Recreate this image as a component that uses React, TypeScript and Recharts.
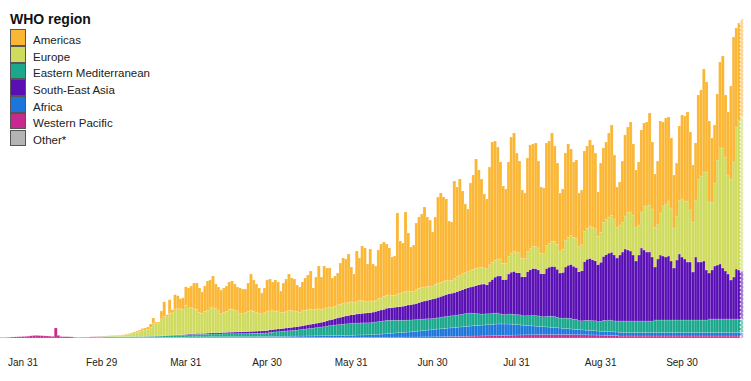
import React from 'react';
import { BarChart, Bar, XAxis, YAxis } from 'recharts';

// daily new cases by WHO region, Jan 23 - Oct 22 (one per day)
const START_UTC = Date.UTC(2020, 0, 23);
const MONTHS = ['Jan', 'Feb', 'Mar', 'Apr', 'May', 'Jun', 'Jul', 'Aug', 'Sep', 'Oct', 'Nov', 'Dec'];

const tickLabels = ['Jan 31', 'Feb 29', 'Mar 31', 'Apr 30', 'May 31', 'Jun 30', 'Jul 31', 'Aug 31', 'Sep 30'];

const other = [
  0, 0, 0, 0, 0, 0, 0, 0, 0, 0,
  0, 0, 0, 0, 0, 0, 0, 0, 0, 0,
  0, 0, 0, 0, 0, 0, 0, 0, 0, 0,
  0, 0, 0, 0.4, 0.5, 0.5, 0.6, 0.6, 0.5, 0.4,
  0.3,
];

const westernPacific = [
  0.5, 0.5, 0.6, 0.7, 1.0, 1.1, 1.2, 1.3, 1.5, 1.6,
  1.8, 2.2, 2.5, 2.6, 2.4, 2.3, 2.1, 2.0, 1.8, 1.6,
  10, 2.6, 1.4, 1.3, 1.3, 1.2, 1.1, 0.6, 0.5, 0.5,
  0.6, 0.6, 0.6, 0.7, 0.7, 0.7, 0.8, 0.8, 0.8, 0.8,
  0.8, 0.8, 0.8, 0.7, 0.7, 0.7, 0.7, 0.6, 0.6, 0.6,
  0.6, 0.6, 0.6, 0.6, 0.6, 0.6, 0.6, 0.6, 0.6, 0.6,
  0.6, 0.6, 0.6, 0.6, 0.6, 0.6, 0.6, 0.6, 0.6, 0.8,
  0.8, 0.8, 0.8, 0.8, 0.7, 0.7, 0.8, 0.8, 0.8, 0.8,
  0.7, 0.7, 0.7, 0.7, 0.7, 0.7, 0.7, 0.6, 0.6, 0.6,
  0.6, 0.6, 0.6, 0.6, 0.6, 0.6, 0.6, 0.6, 0.6, 0.6,
  0.6, 0.6, 0.6, 0.6, 0.6, 0.6, 0.6, 0.6, 0.6, 0.6,
  0.6, 0.6, 0.6, 0.6, 0.6, 0.6, 0.6, 0.6, 0.6, 0.6,
  0.6, 0.6, 0.6, 0.6, 0.6, 0.6, 0.6, 0.6, 0.6, 0.6,
  0.6, 0.7, 0.7, 0.7, 0.7, 0.7, 0.8, 0.8, 0.8, 0.8,
  0.8, 0.8, 0.8, 0.9, 0.9, 0.9, 0.9, 0.9, 0.9, 1.0,
  1.0, 1.0, 1.0, 1.0, 1.0, 1.1, 1.1, 1.1, 1.1, 1.2,
  1.2, 1.3, 1.3, 1.4, 1.4, 1.5, 1.5, 1.6, 1.6, 1.7,
  1.7, 1.8, 1.8, 1.9, 1.9, 2.0, 2.0, 2.1, 2.1, 2.2,
  2.2, 2.3, 2.4, 2.5, 2.6, 2.6, 2.7, 2.8, 2.9, 3.0,
  3.0, 3.1, 3.1, 3.2, 3.2, 3.3, 3.3, 3.4, 3.4, 3.5,
  3.5, 3.5, 3.5, 3.5, 3.5, 3.5, 3.5, 3.5, 3.5, 3.5,
  3.5, 3.4, 3.4, 3.3, 3.3, 3.2, 3.2, 3.1, 3.1, 3.0,
  3.0, 2.9, 2.9, 2.8, 2.8, 2.7, 2.6, 2.5, 2, 2,
  2, 2, 2, 2, 2, 2, 2, 2, 2, 2,
  2, 2, 2, 2, 2, 2, 2, 2, 2, 2,
  2, 2, 2, 2, 2, 2, 2, 2, 2, 2,
  2, 2, 2, 2, 2, 2, 2, 2, 2, 2,
  2, 2, 2, 2,
];

const africa = [
  0, 0, 0, 0, 0, 0, 0, 0, 0, 0,
  0, 0, 0, 0, 0, 0, 0, 0, 0, 0,
  0, 0, 0, 0, 0, 0, 0, 0, 0, 0,
  0, 0, 0, 0, 0, 0, 0, 0, 0, 0,
  0, 0, 0, 0, 0, 0, 0, 0, 0, 0,
  0, 0, 0, 0, 0, 0, 0, 0, 0, 0,
  0.2, 0.2, 0.2, 0.2, 0.2, 0.2, 0.2, 0.2, 0.2, 0.3,
  0.3, 0.3, 0.4, 0.4, 0.4, 0.4, 0.4, 0.5, 0.5, 0.5,
  0.5, 0.5, 0.6, 0.6, 0.6, 0.6, 0.6, 0.7, 0.7, 0.7,
  0.7, 0.7, 0.8, 0.8, 0.8, 0.8, 0.8, 0.9, 0.9, 1.0,
  1.0, 1.1, 1.1, 1.1, 1.2, 1.2, 1.2, 1.3, 1.3, 1.3,
  1.4, 1.4, 1.4, 1.5, 1.5, 1.5, 1.6, 1.6, 1.7, 1.7,
  1.8, 1.8, 1.8, 1.9, 1.9, 2.0, 2.0, 2.1, 2.1, 2.2,
  2.2, 2.3, 2.3, 2.4, 2.4, 2.5, 2.5, 2.6, 2.8, 3.0,
  3.1, 3.3, 3.5, 3.7, 3.9, 4.1, 4.3, 4.5, 4.7, 4.8,
  5.0, 5.2, 5.5, 5.8, 6.0, 6.3, 6.5, 6.8, 7.0, 7.2,
  7.5, 7.7, 7.9, 8.1, 8.3, 8.5, 8.7, 8.9, 9.1, 9.3,
  9.5, 9.7, 9.9, 10.1, 10.3, 10.5, 10.7, 10.8, 10.9, 11,
  11.1, 11.3, 11.5, 11.5, 11.5, 11.4, 11.3, 11.2, 11, 10.7,
  10.4, 10.1, 9.8, 9.5, 9.2, 9.0, 8.8, 8.5, 8.2, 8.0,
  7.8, 7.6, 7.4, 7.2, 7.0, 6.8, 6.5, 6.2, 6.0, 5.8,
  5.6, 5.4, 5.2, 5.0, 4.9, 4.8, 4.6, 4.5, 4.3, 4.2,
  4.0, 3.9, 3.8, 3.7, 3.6, 3.6, 3.5, 3.5, 3.5, 3.5,
  3.5, 3.5, 3.5, 3.5, 3.5, 3.5, 3.5, 3.5, 3.5, 3.5,
  3.5, 3.5, 3.5, 3.5, 3.5, 3.5, 3.5, 3.5, 3.5, 3.5,
  3.5, 3.5, 3.5, 3.5, 3.5, 3.5, 3.5, 3.5, 3.5, 3.5,
  3.5, 3.5, 3.5, 3.5, 3.5, 3.5, 3.5, 3.5, 3.5, 3.5,
  3.5, 3.5, 3.5, 3.5,
];

const easternMed = [
  0, 0, 0, 0, 0, 0, 0, 0, 0, 0,
  0, 0, 0, 0, 0, 0, 0, 0, 0, 0,
  0, 0, 0, 0, 0, 0, 0, 0, 0, 0,
  0, 0, 0, 0, 0, 0, 0, 0, 0.3, 0.4,
  0.5, 0.5, 0.6, 0.6, 0.6, 0.7, 0.8, 0.8, 0.9, 0.9,
  1.0, 1.0, 1.0, 1.1, 1.1, 1.2, 1.2, 1.3, 1.3, 1.4,
  1.5, 1.6, 1.7, 1.8, 1.9, 2.0, 2.0, 2.1, 2.2, 2.3,
  2.4, 2.4, 2.5, 2.5, 2.5, 2.6, 2.6, 2.7, 2.7, 2.8,
  2.8, 2.8, 2.9, 2.9, 3.0, 3.0, 3.0, 3.0, 3.1, 3.1,
  3.1, 3.2, 3.2, 3.3, 3.3, 3.4, 3.4, 3.5, 3.6, 4.0,
  4.2, 4.4, 4.6, 4.8, 5.0, 5.2, 5.4, 5.6, 5.8, 6.0,
  6.3, 6.6, 6.9, 7.2, 7.5, 7.8, 8.1, 8.4, 8.7, 9.0,
  9.5, 10, 10.2, 10.5, 10.8, 11, 11.2, 11.4, 11.6, 11.8,
  11.8, 12, 12, 12, 12, 12, 12, 12.2, 12.4, 12.6,
  12.8, 13, 13.5, 13.2, 13, 12.8, 12.6, 12.4, 12.2, 12,
  12, 11.8, 11.7, 11.6, 11.5, 11.5, 11.4, 11.3, 11.2, 11.1,
  11, 11.2, 11.4, 11.6, 11.8, 11.9, 12, 12, 12.2, 12.4,
  12.6, 12.8, 13, 13, 12.5, 12, 11.5, 11, 11, 11,
  11, 11, 11, 11, 10, 9.5, 9.5, 10, 10, 10,
  10, 10, 9.5, 9.5, 10, 10, 10.5, 10.5, 10.5, 10,
  10, 10.5, 11, 11, 11, 10.5, 10, 10, 10.5, 10.5,
  10.5, 10, 10, 9, 9, 9.5, 10, 10, 10, 10,
  9.5, 10, 11, 11, 11.5, 11.5, 11, 11, 11.5, 11.5,
  11.5, 11.5, 11.5, 11.5, 11.5, 11.5, 11.5, 11.5, 11.5, 11.5,
  11.5, 12.5, 12.5, 12.5, 12.5, 12.5, 12.5, 12.5, 12.5, 12.5,
  12.5, 12.5, 12.5, 12.5, 12.5, 12.5, 12.5, 12.5, 12.5, 12.5,
  12.5, 13.5, 13.5, 13.5, 13.5, 13.5, 13.5, 13.5, 13.5, 13.5,
  13.5, 13.5, 13.5, 13.5,
];

const southEastAsia = [
  0, 0, 0, 0, 0, 0, 0, 0, 0, 0,
  0, 0, 0, 0, 0, 0, 0, 0, 0, 0,
  0, 0, 0, 0, 0, 0, 0, 0, 0, 0,
  0, 0, 0, 0, 0, 0, 0, 0, 0, 0,
  0, 0, 0, 0, 0, 0, 0, 0, 0, 0,
  0, 0, 0, 0, 0, 0.1, 0.1, 0.1, 0.1, 0.2,
  0.2, 0.2, 0.3, 0.3, 0.3, 0.4, 0.4, 0.5, 0.6, 0.7,
  0.8, 0.8, 0.9, 0.9, 1.0, 1.0, 1.1, 1.1, 1.2, 1.3,
  1.3, 1.4, 1.4, 1.5, 1.6, 1.6, 1.7, 1.8, 1.8, 1.9,
  2.0, 2.0, 2.1, 2.1, 2.2, 2.2, 2.3, 2.4, 2.4, 2.5,
  2.6, 2.7, 2.8, 2.8, 2.9, 3.0, 3.1, 3.2, 3.3, 3.4,
  3.5, 3.7, 3.9, 4.0, 4.2, 4.3, 4.5, 4.6, 4.8, 5.0,
  5.3, 5.6, 6.0, 6.4, 6.8, 7.2, 7.6, 8.0, 8.3, 8.6,
  8.8, 9.0, 9.3, 9.6, 9.8, 10, 10, 10.3, 10.6, 11,
  11.3, 11.6, 12, 12.3, 12.6, 13, 13.3, 13.6, 14, 14.5,
  15, 15.3, 15.7, 16.2, 17, 17.5, 18, 18.5, 19, 19.5,
  20, 20.5, 21, 21.5, 22, 22.3, 22.6, 23, 23.5, 24,
  24.5, 25, 25.5, 26, 27, 28, 29, 30, 30, 29,
  32, 34, 36, 37, 38, 35, 35, 40, 42, 43,
  42, 42, 39, 39, 44, 46, 47, 47, 46, 43,
  43, 48, 49, 50, 50, 48, 45, 46, 51, 53,
  54, 53, 52, 49, 50, 59, 61, 62, 61, 60,
  57, 59, 64, 66, 67, 68, 66, 63, 66, 69,
  72, 71, 70, 66, 60, 66, 73, 71, 69, 69,
  64, 53, 61, 65, 64, 63, 64, 59, 52, 60,
  66, 63, 61, 58, 58, 48, 63, 58, 58, 59,
  50, 46, 49, 53, 54, 55, 51, 48, 45, 39,
  42, 50, 49, 48,
];

const europe = [
  0, 0, 0, 0, 0, 0, 0, 0, 0, 0,
  0, 0, 0, 0, 0, 0, 0, 0, 0, 0,
  0, 0, 0, 0, 0, 0, 0, 0, 0, 0,
  0, 0, 0, 0, 0, 0, 0.2, 0.3, 0.4, 0.6,
  0.8, 1.0, 1.2, 1.4, 1.4, 1.5, 1.8, 2.4, 2.9, 3.5,
  4.2, 4.9, 5.9, 6.3, 6.8, 8.6, 13.1, 13, 13, 17,
  19, 18.6, 22, 22.3, 26, 26, 26, 25, 29, 26,
  26, 25, 24, 21, 20, 22, 23, 25, 25, 24,
  22, 19, 20, 21, 23, 23, 22, 21, 18, 18,
  19, 20, 21, 20, 19, 18, 17, 18, 19, 19,
  19, 18, 18, 16, 16, 17, 17, 17, 16, 15,
  14, 15, 15, 15, 15, 14, 14, 14, 13, 13,
  13, 13, 12, 12, 13, 13, 13, 13, 13, 13,
  12, 13, 13, 13, 12, 11, 12, 11, 11, 12,
  12, 13, 13, 13, 12, 12, 13, 13, 14, 14,
  14, 13, 13, 14, 14, 14, 14, 14, 13, 13,
  14, 14, 14, 14, 14, 13, 13, 14, 15, 15,
  16, 16, 16, 17, 17, 17, 17, 17, 16, 16,
  17, 17, 17, 17, 17, 16, 16, 18, 19, 20,
  20, 20, 18, 18, 20, 21, 22, 22, 22, 20,
  20, 23, 24, 25, 25, 25, 22, 23, 27, 28,
  29, 29, 29, 25, 26, 30, 31, 32, 32, 32,
  28, 30, 34, 35, 36, 37, 36, 31, 30, 30,
  33, 38, 39, 40, 34, 30, 36, 44, 46, 47,
  48, 40, 35, 42, 50, 53, 55, 53, 40, 44,
  54, 58, 58, 61, 52, 50, 57, 83, 86, 89,
  98, 71, 68, 83, 105, 116, 120, 114, 99, 101,
  115, 142, 150, 154,
];

const americas = [
  0, 0, 0, 0, 0, 0, 0, 0, 0, 0,
  0, 0, 0, 0, 0, 0, 0, 0, 0, 0,
  0, 0, 0, 0, 0, 0, 0, 0, 0, 0,
  0, 0, 0, 0, 0, 0, 0, 0, 0, 0,
  0.1, 0.2, 0.2, 0.3, 0.3, 0.4, 0.5, 0.7, 0.8, 1.0,
  1.2, 1.5, 2.0, 2.0, 2.5, 3.5, 5, 1, 1, 7.8,
  14.7, 2, 13.4, 3, 14.2, 13, 10, 11.8, 18.6, 20,
  21.7, 25.7, 26.4, 24.4, 21.4, 25.3, 29.1, 27.9, 31.8, 24.6,
  23.7, 23.6, 24.4, 25.3, 27.1, 28.1, 26, 23.9, 25.8, 24.7,
  23.6, 28.5, 36.3, 31.2, 28.1, 25, 20.9, 24.6, 31.5, 31.9,
  28.6, 31.2, 28.9, 21.7, 29.3, 32, 36.7, 32.3, 32, 26.7,
  25.2, 28.7, 32.2, 34.7, 38.2, 21.8, 32.2, 42.8, 32.2, 42.7,
  39.8, 39, 29.4, 30.6, 31.9, 41.2, 45.6, 43.9, 48.4, 34.8,
  28.6, 50, 42.7, 54.3, 53.1, 37.8, 51.7, 37.1, 34.4, 48.6,
  54, 54.3, 51.2, 46.9, 38.6, 39.2, 80.9, 52.6, 49.2, 79.7,
  58, 44.7, 46.1, 66.4, 71.5, 73.6, 80, 69.3, 66.7, 54,
  67.3, 86.3, 89.4, 84.4, 81.5, 59.8, 58.2, 97.5, 89.6, 96.6,
  82.7, 68.7, 62.8, 87, 94.3, 109.5, 97.8, 88.1, 74, 69.8,
  97.7, 120.4, 119.1, 112, 96.9, 77.5, 74.5, 94, 116.1, 118.3,
  99.6, 91.8, 68.6, 65.8, 93.6, 103.7, 102.4, 103.6, 86.9, 66.5,
  65.7, 102.4, 102.1, 108.3, 95.5, 81.2, 58, 60.3, 87, 93.2,
  86.4, 75.2, 78.4, 53.7, 54.8, 80.5, 82.2, 86.4, 82.6, 75.8,
  44.5, 69.2, 74.3, 77.5, 84.1, 90.2, 63.9, 40, 43, 61,
  81, 85, 90, 71, 57, 63, 82, 83, 84, 92,
  67, 53, 63, 92, 84, 86, 84, 70, 53, 53,
  74, 84, 85, 89, 78, 57, 57, 84, 86, 103,
  90, 81, 64, 58, 66, 86, 92, 62, 63, 93,
  125, 99, 97, 98,
];

const days = westernPacific.map((_, i) => {
  const d = new Date(START_UTC + i * 86400000);
  return `${MONTHS[d.getUTCMonth()]} ${d.getUTCDate()}`;
});
const lastDay = days[days.length - 1];

// bottom of the stack first
const regions = [
  { key: 'other', name: 'Other*', color: '#b4b4b4', values: other },
  { key: 'wp', name: 'Western Pacific', color: '#c8298f', values: westernPacific },
  { key: 'africa', name: 'Africa', color: '#1c75da', values: africa },
  { key: 'em', name: 'Eastern Mediterranean', color: '#1aa88c', values: easternMed },
  { key: 'sea', name: 'South-East Asia', color: '#5a0fb4', values: southEastAsia },
  { key: 'europe', name: 'Europe', color: '#cfdb5c', values: europe },
  { key: 'americas', name: 'Americas', color: '#fbb634', values: americas },
];

const legendOrder = ['americas', 'europe', 'em', 'sea', 'africa', 'wp', 'other'];

const data = days.map((date, i) => {
  const row: Record<string, any> = { date };
  regions.forEach((r) => {
    row[r.key] = r.values[i] ?? 0;
  });
  return row;
});

const FONT = '"Liberation Sans", Arial, sans-serif';

function makeShape(color: string) {
  return (props: any) => {
    const { x, y, width, height, payload } = props;
    if (!height || height <= 0) return <g />;
    const partial = payload && payload.date === lastDay;
    return (
      <rect
        x={x}
        y={y}
        width={width}
        height={height}
        fill={color}
        fillOpacity={partial ? 0.55 : 1}
        stroke="#ffffff"
        strokeOpacity={partial ? 0.95 : 0.35}
        strokeWidth={partial ? 1 : 0.5}
        strokeDasharray={partial ? '2 2' : undefined}
      />
    );
  };
}

function RegionLegend() {
  const rows = legendOrder.map((k) => regions.find((r) => r.key === k)!);
  return (
    <div style={{ position: 'absolute', left: 10, top: 0, fontFamily: FONT, color: '#222' }}>
      <div style={{ position: 'absolute', top: 9, left: 0, fontWeight: 'bold', fontSize: 14, lineHeight: '20px', whiteSpace: 'nowrap', color: '#111' }}>
        WHO region
      </div>
      {rows.map((r, i) => (
        <div key={r.key} style={{ position: 'absolute', top: 29.3 + i * 16.7, left: 0, whiteSpace: 'nowrap' }}>
          <div
            style={{
              position: 'absolute',
              left: 0,
              top: 0,
              width: 16,
              height: 16.7,
              boxSizing: 'border-box',
              background: r.color,
              border: '1.2px solid #555',
            }}
          />
          <div style={{ position: 'absolute', left: 23, top: 2.5, fontSize: 11.5, lineHeight: '16.7px' }}>{r.name}</div>
        </div>
      ))}
    </div>
  );
}

export default function App() {
  return (
    <div style={{ position: 'absolute', left: 0, top: 0, width: 751, height: 381, background: '#fff' }}>
      <BarChart
        width={751}
        height={381}
        data={data}
        margin={{ top: 18, right: 8, bottom: 0, left: 0 }}
        barCategoryGap={0}
        barGap={0}
      >
        <XAxis
          dataKey="date"
          ticks={tickLabels}
          interval={0}
          axisLine={false}
          tickLine={false}
          tickSize={0}
          tickMargin={21}
          height={43}
          tick={{ fontSize: 10, fill: '#222', fontFamily: FONT }}
        />
        <YAxis hide domain={[0, 320]} allowDataOverflow />
        {regions.map((r) => (
          <Bar
            key={r.key}
            dataKey={r.key}
            name={r.name}
            stackId="who"
            fill={r.color}
            shape={makeShape(r.color)}
            isAnimationActive={false}
          />
        ))}
      </BarChart>
      <RegionLegend />
    </div>
  );
}
